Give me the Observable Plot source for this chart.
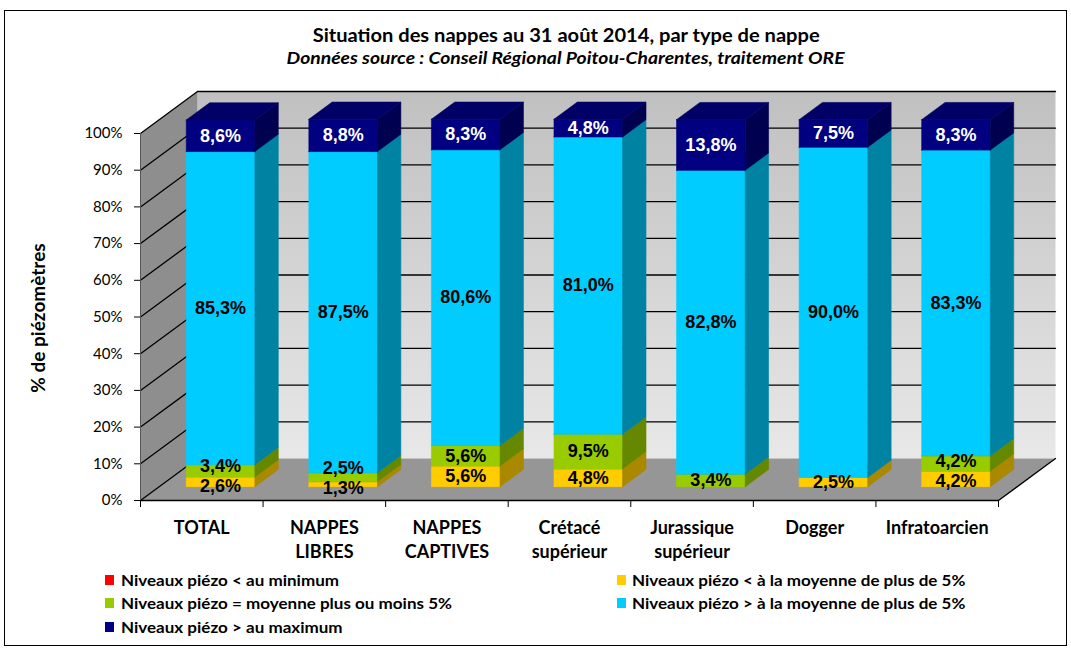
<!DOCTYPE html>
<html><head><meta charset="utf-8">
<script src="https://cdn.jsdelivr.net/npm/d3@7"></script>
<script src="https://cdn.jsdelivr.net/npm/@observablehq/plot@0.6"></script>
<style>
body{margin:0;background:#fff;}
#wrap{position:relative;width:1071px;height:649px;overflow:hidden;font-family:Lato,"Open Sans",sans-serif;color:#000;}
#frame{position:absolute;left:4px;top:10px;width:1063px;height:636px;border:1px solid #000;box-sizing:border-box;}
.t{position:absolute;white-space:nowrap;}
#title{left:266px;width:600px;text-align:center;top:22px;font-size:19.5px;font-weight:700;line-height:26px;}
#subtitle{left:266px;width:600px;text-align:center;top:46px;font-size:17px;font-weight:700;font-style:italic;line-height:24px;}
#ytitle{left:37px;top:318px;font-size:19px;font-weight:700;transform:translate(-50%,-50%) rotate(-90deg);}
#chart{position:absolute;left:0;top:70px;}
.sw{position:absolute;width:9px;height:10px;}
.lg{position:absolute;font-size:15.5px;font-weight:700;line-height:20px;transform-origin:0 50%;}
</style></head>
<body><div id="wrap">
<div id="frame"></div>
<div id="title" class="t"><span>Situation des nappes au 31 août 2014, par type de nappe</span></div>
<div id="subtitle" class="t"><span>Données source : Conseil Régional Poitou-Charentes, traitement ORE</span></div>
<div id="ytitle" class="t">% de piézomètres</div>
<div id="chart"></div>
<div id="legend"></div>
</div>
<script>
// ---- data ----
const categories = ["TOTAL", "NAPPES\nLIBRES", "NAPPES\nCAPTIVES", "Crétacé\nsupérieur", "Jurassique\nsupérieur", "Dogger", "Infratoarcien"];
const seriesNames = ["Niveaux piézo < au minimum", "Niveaux piézo < à la moyenne de plus de 5%", "Niveaux piézo = moyenne plus ou moins 5%", "Niveaux piézo > à la moyenne de plus de 5%", "Niveaux piézo > au maximum"];
const belowMinimum = [0, 0, 0, 0, 0, 0, 0];
const belowMean = [2.6, 1.3, 5.6, 4.8, 0, 2.5, 4.2];
const aroundMean = [3.4, 2.5, 5.6, 9.5, 3.4, 0, 4.2];
const aboveMean = [85.3, 87.5, 80.6, 81.0, 82.8, 90.0, 83.3];
const aboveMaximum = [8.6, 8.8, 8.3, 4.8, 13.8, 7.5, 8.3];
const yTicks = [0, 10, 20, 30, 40, 50, 60, 70, 80, 90, 100];
// ---- styles ----
const frontColors = ["#FF0000", "#FFCC00", "#99CC00", "#00CCFF", "#000080"];
const sideColors  = ["#AA0000", "#AA8800", "#668800", "#0082A3", "#000050"];
const topColors   = ["#CC0000", "#CCA300", "#7AA300", "#00A3CC", "#000066"];
const labelColors = ["#000", "#000", "#000", "#000", "#fff"];
const seriesValues = [belowMinimum, belowMean, aroundMean, aboveMean, aboveMaximum];

// 3D projection in data units (depth z in [0,1])
const DX = 0.465, DY = 11.44, Z0 = 0.33, Z1 = 0.74, HW = 0.28, GAP = 5.5;
const N = categories.length, YMAX = 100;
const P = (x, y, z) => ({x: x + z * DX, y: y + z * DY});
function poly(id, pts, color) {
  return [...pts, pts[0]].map(p => ({x: p.x, y: p.y, id, color}));
}

const backWall = poly("back", [P(0,0,1), P(N,0,1), P(N,YMAX,1), P(0,YMAX,1)], null);
const leftWall = poly("left", [P(0,0,0), P(0,0,1), P(0,YMAX,1), P(0,YMAX,0)], null);
const floor = poly("floor", [P(0,0,0), P(N,0,0), P(N,0,1), P(0,0,1)], null);
const grid = [];
yTicks.forEach(v => {
  if (v > 0) [P(0,v,1), P(N,v,1)].forEach(p => grid.push({...p, id: "b" + v}));
  [P(0,v,0), P(0,v,1)].forEach(p => grid.push({...p, id: "l" + v}));
});
const edges = [];
[[P(0,0,0), P(N,0,0)], [P(N,0,0), P(N,0,1)]].forEach((seg, k) => seg.forEach(p => edges.push({...p, id: "e" + k})));
const frontEdge = [P(0,0,0), P(0,YMAX,0)].map(p => ({...p, id: "fe"}));

const faces = [], labels = [];
categories.forEach((c, i) => {
  const xl = i + 0.5 - HW, xr = i + 0.5 + HW;
  let cum = 0; const labs = [];
  seriesValues.forEach((vals, s) => {
    const v = vals[i];
    if (v > 0) {
      const b = cum, t = cum + v, id = i + "-" + s;
      faces.push(...poly(id + "f", [P(xl,b,Z0), P(xr,b,Z0), P(xr,t,Z0), P(xl,t,Z0)], frontColors[s]));
      faces.push(...poly(id + "s", [P(xr,b,Z0), P(xr,b,Z1), P(xr,t,Z1), P(xr,t,Z0)], sideColors[s]));
      faces.push(...poly(id + "t", [P(xl,t,Z0), P(xr,t,Z0), P(xr,t,Z1), P(xl,t,Z1)], topColors[s]));
      labs.push({mid: (b + t) / 2, v, s});
    }
    cum += v;
  });
  for (let j = 1; j < labs.length; j++) {
    const gap = labs[j].mid - labs[j-1].mid;
    if (gap < GAP) {
      labs[j-1].mid = Math.max(-0.5, labs[j-1].mid - (GAP - gap) / 2);
      labs[j].mid = labs[j-1].mid + GAP;
    }
  }
  labs.forEach(l => {
    const p = P(i + 0.5, l.mid, Z0);
    labels.push({x: p.x, y: p.y, text: l.v.toFixed(1).replace(".", ",") + "%", color: labelColors[l.s]});
  });
});

const plot = Plot.plot({
  width: 1071, height: 500,
  marginLeft: 140, marginRight: 73, marginTop: 63, marginBottom: 70,
  x: {type: "linear", domain: [0, N], axis: null},
  y: {domain: [0, YMAX], axis: null},
  color: {type: "identity"},
  style: {fontFamily: "Lato, 'Open Sans', sans-serif", fontSize: "15px", color: "#000", background: "transparent", overflow: "visible"},
  marks: [
    Plot.line(backWall, {x: "x", y: "y", fill: "url(#wallGrad)", stroke: "none"}),
    Plot.line(leftWall, {x: "x", y: "y", fill: "#8e8e8e", stroke: "none"}),
    Plot.line(floor, {x: "x", y: "y", fill: "#969696", stroke: "none"}),
    Plot.line(grid, {x: "x", y: "y", z: "id", stroke: "#000", strokeWidth: 1.3}),
    Plot.line(edges, {x: "x", y: "y", z: "id", stroke: "#000", strokeWidth: 1.3}),
    Plot.line(frontEdge, {x: "x", y: "y", stroke: "#555", strokeWidth: 1}),
    Plot.axisY({ticks: yTicks, tickFormat: d => d + "%", tickSize: 6, tickPadding: 12, fontSize: 15, stroke: "#000", label: null}),
    Plot.axisX({ticks: d3.range(N + 1), tickFormat: () => "", tickSize: 7, stroke: "#000", label: null}),
    Plot.text(categories, {x: (d, i) => i + 0.5, y: () => 0, text: d => d, dy: 16, lineAnchor: "top", lineHeight: 1.333, fontSize: 18, fontWeight: 700, fill: "#000"}),
    Plot.line(faces, {x: "x", y: "y", z: "id", fill: "color", stroke: "color", strokeWidth: 0.6}),
    Plot.text(labels, {x: "x", y: "y", text: "text", fill: "color", fontSize: 18, fontWeight: 700, fontFamily: "'Liberation Sans', Arial, sans-serif"})
  ]
});
const defs = d3.select(plot).insert("defs", ":first-child");
const g = defs.append("linearGradient").attr("id", "wallGrad").attr("x1", 0).attr("y1", 0).attr("x2", 0).attr("y2", 1);
g.append("stop").attr("offset", "0%").attr("stop-color", "#c0c0c0");
g.append("stop").attr("offset", "100%").attr("stop-color", "#e8e8e8");
document.getElementById("chart").appendChild(plot);

// legend
const legendPos = [[105, 580, 121], [617, 580, 632], [105, 603, 121], [617, 603, 632], [105, 627, 121]];
const order = [0, 1, 2, 3, 4];
const legend = document.getElementById("legend");
const items = [];
order.forEach((s, k) => {
  const [sx, sy, tx] = legendPos[k];
  const sw = document.createElement("div");
  sw.className = "sw"; sw.style.left = sx + "px"; sw.style.top = (sy - 5) + "px"; sw.style.background = frontColors[s];
  legend.appendChild(sw);
  const t = document.createElement("div");
  t.className = "t lg"; t.style.left = tx + "px"; t.style.top = (sy - 10) + "px"; t.textContent = seriesNames[s];
  legend.appendChild(t); items.push(t);
});
// horizontal fit of condensed text
function fit(el, target, origin) {
  const w = el.getBoundingClientRect().width;
  if (w > 0) { el.style.display = "inline-block"; el.style.transformOrigin = origin; el.style.transform = `scaleX(${target / w})`; }
}
fit(document.querySelector("#title span"), 507, "50% 50%");
fit(document.querySelector("#subtitle span"), 558, "50% 50%");
const lw = items[0].getBoundingClientRect().width;
const k = 218 / lw;
items.forEach(t => t.style.transform = `scaleX(${k})`);
</script>
</body></html>
